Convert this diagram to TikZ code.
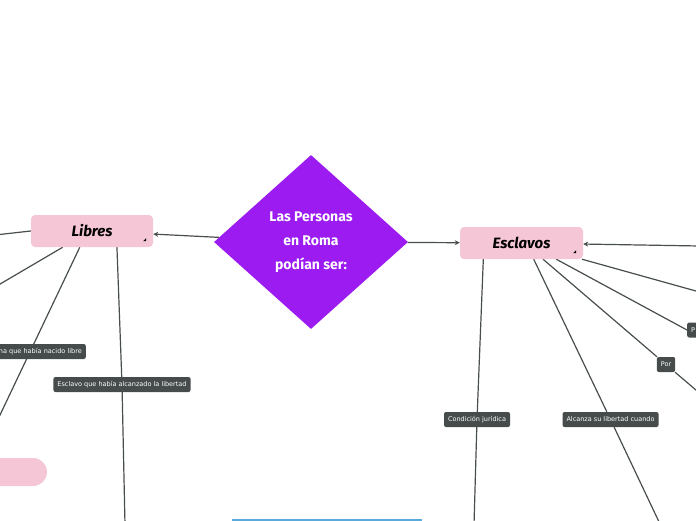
\documentclass[tikz,border=0pt]{standalone}
\usepackage{fontspec}
\setmainfont{DejaVu Sans}
\newfontfamily\headfont{Fira Sans}
\usetikzlibrary{shapes.geometric, arrows.meta, calc, backgrounds}
\definecolor{romapurple}{RGB}{155, 27, 240}
\definecolor{topicpink}{RGB}{245, 199, 214}
\definecolor{tagslate}{RGB}{70, 76, 76}
\definecolor{linkgray}{RGB}{72, 77, 77}
\definecolor{edgeblue}{RGB}{90, 170, 220}

\begin{document}
\begin{tikzpicture}[x=1pt, y=-1pt, >={Stealth[length=5pt, width=5pt]},
    link/.style={draw=linkgray, line width=1.2pt},
    topic/.style={rounded corners=4pt, fill=topicpink, minimum width=122pt, minimum height=32pt,
        font=\headfont\bfseries\itshape\fontsize{15}{17}\selectfont},
    tag/.style={rounded corners=2pt, fill=tagslate, text=white, inner xsep=4pt, inner ysep=0pt,
        minimum height=15pt, font=\fontsize{6.5}{7.5}\selectfont}]
    \useasboundingbox (0,0) rectangle (696,520);
    \clip (0,0) rectangle (696,520);

    \node[diamond, fill=romapurple, minimum width=194pt, minimum height=174pt, inner sep=0pt,
        text=white, align=center, font=\headfont\bfseries\fontsize{14}{24}\selectfont]
        (roma) at (311,242) {Las Personas\\en Roma\\podían ser:};

    \node[topic] (libres) at (92,231) {Libres};
    \node[topic, minimum width=123pt] (esclavos) at (521.5,243) {Esclavos};
    % little fold marks
    \fill ($(libres.south east)+(-7,-6)$) -- ++(0,-3) -- ++(-3,3) -- cycle;
    \fill ($(esclavos.south east)+(-7,-6)$) -- ++(0,-3) -- ++(-3,3) -- cycle;

    \node[tag, anchor=east, text width=92pt, align=right] (nacido) at (86,351.5) {na que había nacido libre};
    \node[tag] (alcanzado) at (122,384.5) {Esclavo que había alcanzado la libertad};
    \node[tag] (condicion) at (477,419.5) {Condición jurídica};
    \node[tag] (alcanza) at (610.5,419.5) {Alcanza su libertad cuando};
    \node[tag] (por) at (666,364.5) {Por};
    \node[tag, anchor=west, text width=14pt, align=left] (porB) at (687,330) {P};

    \node[fill=topicpink, rounded corners=14pt, minimum width=100pt, minimum height=28pt] (pill) at (-3,472) {};
    \node[fill=edgeblue, minimum width=190pt, minimum height=3pt, inner sep=0pt] (azul) at (327,520) {};

    \coordinate (outL) at (-5,235);
    \coordinate (outA) at (-5,287);
    \coordinate (outB) at (-5,425.5);
    \coordinate (outC) at (125,525);
    \coordinate (outD) at (474,525);
    \coordinate (outE) at (660.5,525);
    \coordinate (outF) at (703,396);
    \coordinate (outG) at (702,292.7);
    \coordinate (outR) at (700,246);

    \begin{scope}[on background layer]
        \draw[link, ->] (roma) -- (libres);
        \draw[link, ->] (roma) -- (esclavos);
        \draw[link, ->] (outR) -- (esclavos);
        \draw[link] (libres.west) -- (outL);
        \draw[link] (libres.209) -- (outA);
        \draw[link] (libres.233) -- (outB);
        \draw[link] (libres.327) -- (alcanzado) -- (outC);
        \draw[link] (esclavos.203) -- (condicion) -- (outD);
        \draw[link] (esclavos.307) -- (alcanza) -- (outE);
        \draw[link] (esclavos.323) -- (por) -- (outF);
        \draw[link] (esclavos.335) -- (porB.west);
        \draw[link] (esclavos.345) -- (outG);
    \end{scope}
\end{tikzpicture}
\end{document}
